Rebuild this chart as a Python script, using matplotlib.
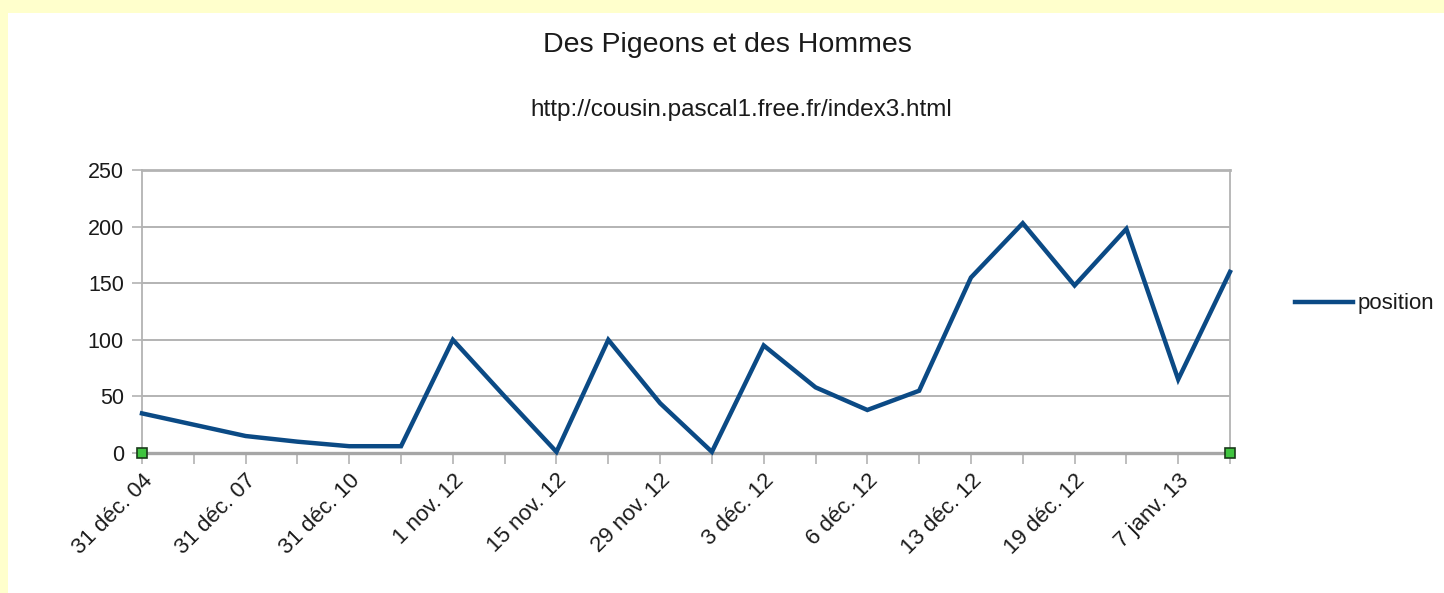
import matplotlib
matplotlib.use("Agg")
import matplotlib.pyplot as plt
from matplotlib.patches import Rectangle

# Data
categories = ["31 déc. 04", "", "31 déc. 07", "", "31 déc. 10", "", "1 nov. 12", "",
              "15 nov. 12", "", "29 nov. 12", "", "3 déc. 12", "", "6 déc. 12", "",
              "13 déc. 12", "", "19 déc. 12", "", "7 janv. 13", ""]
position = [35, 25, 15, 10, 6, 6, 100, 50, 1, 100, 44, 1, 95, 58, 38, 55,
            155, 203, 148, 198, 65, 160]
y_ticks = [0, 50, 100, 150, 200, 250]

title = "Des Pigeons et des Hommes"
subtitle = "http://cousin.pascal1.free.fr/index3.html"
series_name = "position"

plt.rcParams['font.family'] = ['Liberation Sans', 'DejaVu Sans']

W, H = 1444, 593
fig = plt.figure(figsize=(W / 100, H / 100), dpi=100)
fig.patch.set_facecolor("#FFFFCC")
fig.add_artist(Rectangle((8 / W, 0), (W - 8) / W, (H - 13) / H,
                         transform=fig.transFigure, facecolor="white",
                         edgecolor="none", zorder=0))

left, right, top, bottom = 142, 1230, 170, 453
ax = fig.add_axes([left / W, 1 - bottom / H, (right - left) / W, (bottom - top) / H])
ax.set_facecolor("white")

x = list(range(len(position)))
line, = ax.plot(x, position, color="#0b4a85", lw=3.2, solid_joinstyle="miter",
                label=series_name, zorder=3, clip_on=False)

ax.set_xlim(0, len(position) - 1)
ax.set_ylim(0, 250)
ax.set_yticks(y_ticks)
ax.set_xticks(x)
ax.set_xticklabels(categories, rotation=45, ha="right", va="top",
                   rotation_mode="anchor")

grid_c = "#b3b3b3"
ax.grid(axis="y", color=grid_c, lw=1.4)
ax.set_axisbelow(True)
for side in ["left", "right", "top"]:
    ax.spines[side].set_color(grid_c)
    ax.spines[side].set_linewidth(1.3)
ax.spines["top"].set_linewidth(2.0)
ax.spines["bottom"].set_color("#a6a6a6")
ax.spines["bottom"].set_linewidth(2.4)

ax.tick_params(axis="y", direction="out", length=7, width=1.2, color=grid_c,
               pad=6, labelsize=15.5, labelcolor="#1a1a1a")
ax.tick_params(axis="x", direction="out", length=8, width=1.2, color=grid_c,
               pad=4, labelsize=16, labelcolor="#1a1a1a")

# selection handles at the axis corners
ax.plot([0, 1], [0, 0], transform=ax.transAxes, ls="none", marker="s",
        markersize=6.5, markerfacecolor="#3fc43f", markeredgecolor="#1a3a1a",
        markeredgewidth=1.2, clip_on=False, zorder=5)

fig.text(727 / W, 1 - 45 / H, title, ha="center", va="center",
         fontsize=20.5, color="#1a1a1a")
fig.text(741 / W, 1 - 110 / H, subtitle, ha="center", va="center",
         fontsize=17.5, color="#1a1a1a")

leg = fig.legend(handles=[line], loc="center left",
                 bbox_to_anchor=(1295 / W, 1 - 304 / H),
                 bbox_transform=fig.transFigure, frameon=False,
                 fontsize=16, handlelength=2.6, handletextpad=0.2,
                 borderpad=0, borderaxespad=0)
for t in leg.get_texts():
    t.set_color("#1a1a1a")

fig.savefig("out.png", dpi=100, facecolor=fig.get_facecolor())
